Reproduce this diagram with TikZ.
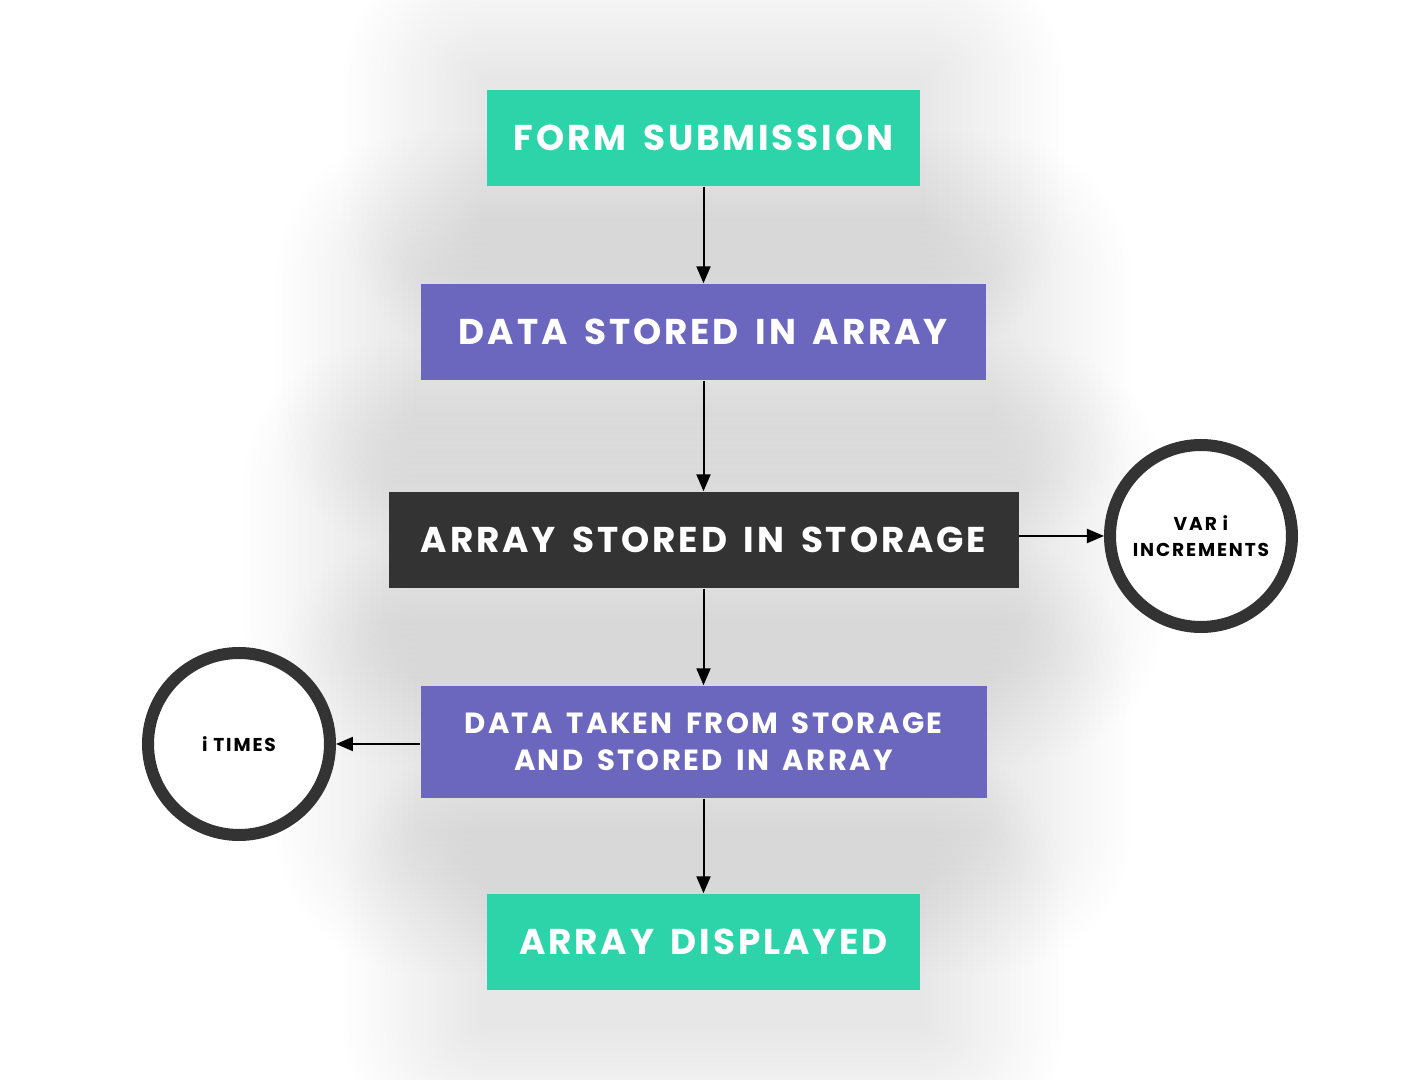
\documentclass[tikz,border=0pt]{standalone}
\usepackage{fontspec}
\setmainfont{Poppins}
\newfontfamily\capsfont{Poppins}[LetterSpace=8,WordSpace=1.6]
\newfontfamily\ringfont{Poppins}[LetterSpace=10]
\usepackage{tikz}
\usetikzlibrary{arrows.meta,backgrounds,calc}
\definecolor{color0}{RGB}{45,212,170}
\definecolor{color2}{RGB}{107,102,190}
\definecolor{color7}{RGB}{51,51,51}
\tikzstyle{stage}=[rectangle,inner sep=0pt,text=white,align=center,font=\capsfont\bfseries\fontsize{10.2}{13}\selectfont]
\tikzstyle{green stage}=[stage,fill=color0,minimum width=4.32cm,minimum height=0.96cm]
\tikzstyle{purple stage}=[stage,fill=color2,minimum height=0.96cm]
\tikzstyle{dark stage}=[stage,fill=color7,minimum width=6.30cm,minimum height=0.96cm]
\tikzstyle{ring}=[circle,draw=color7,fill=white,line width=0.12cm,minimum size=1.82cm,inner sep=0pt,align=center,font=\ringfont\bfseries\fontsize{5.3}{7.4}\selectfont]
\tikzstyle{flow}=[-{Triangle[length=0.17cm,width=0.14cm]},line width=0.02cm,black]
\tikzstyle{glow}=[fill=black,fill opacity=0.004]

\begin{document}
\begin{tikzpicture}
\def\midx{7.035}

    \useasboundingbox (0,0) rectangle (14.10,-10.80);

	% Stages
    \node[green stage] (S-1) at (\midx,-1.38) {FORM SUBMISSION};
    \node[purple stage, minimum width=5.65cm] (S-2) at (\midx,-3.32) {DATA STORED IN ARRAY};
    \node[dark stage] (S-3) at (\midx,-5.40) {ARRAY STORED IN STORAGE};
    \node[purple stage, minimum width=5.66cm, minimum height=1.12cm, font=\capsfont\bfseries\fontsize{8.3}{10.6}\selectfont] (S-4) at (\midx,-7.42) {DATA TAKEN FROM STORAGE\\AND STORED IN ARRAY};
    \node[green stage] (S-5) at (\midx,-9.42) {ARRAY DISPLAYED};

	% Counters
    \node[ring] (C-1) at (12.01,-5.36) {VAR i\\INCREMENTS};
    \node[ring] (C-2) at (2.39,-7.44) {i TIMES};

	% Stage -> stage
    \foreach \source/\dest in {1/2,2/3,3/4,4/5}
        \draw[flow] (S-\source.south) -- (S-\dest.north);

    \draw[flow] (S-3.east |- C-1) -- (C-1.west);
    \draw[flow] (S-4.west |- C-2) -- (C-2.east);

	% Soft shadows
    \begin{scope}[on background layer]
    \fill[white] (0,0) rectangle (14.10,-10.80);
    \foreach \name in {1,...,5}
        \foreach \g in {0.06,0.12,...,1.44}
            \path[glow, rounded corners=\g cm] ($(S-\name.south west)+(-\g,-\g-0.30)$) rectangle ($(S-\name.north east)+(\g,\g+0.05)$);
    \end{scope}

\end{tikzpicture}
\end{document}
